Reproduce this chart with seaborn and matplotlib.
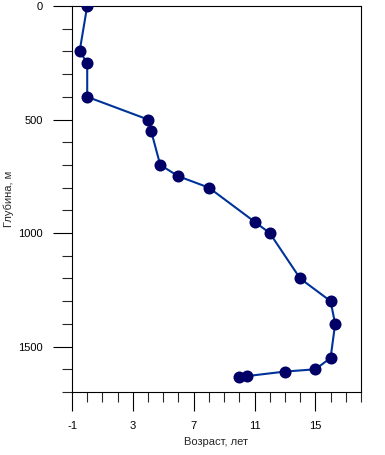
import pandas as pd
import matplotlib
matplotlib.use("Agg")
import matplotlib.pyplot as plt
import seaborn as sns
from matplotlib.ticker import MultipleLocator, FixedLocator

# Age (years) vs depth (m)
age = [0, -0.5, 0, 0, 4, 4.2, 4.8, 6, 8, 11, 12, 14, 16, 16.3, 16, 15, 13, 10.5, 10]
depth = [0, 200, 250, 400, 500, 550, 700, 750, 800, 950, 1000, 1200, 1300, 1400, 1550, 1600, 1610, 1630, 1635]

df = pd.DataFrame({"age": age, "depth": depth})

sns.set_style("white")
plt.rcParams['font.family'] = ['Liberation Sans', 'DejaVu Sans']
plt.rcParams['axes.unicode_minus'] = False

fig = plt.figure(figsize=(3.85, 4.55), dpi=100)
ax = fig.add_axes([72 / 385, 1 - 392 / 455, (361 - 72) / 385, (392 - 6) / 455])

sns.lineplot(data=df, x="age", y="depth", sort=False, estimator=None,
             color="#003399", linewidth=1.5, ax=ax)
sns.scatterplot(data=df, x="age", y="depth", color="#000066", s=75,
                edgecolor="#000066", linewidth=0, ax=ax, zorder=3)

ax.set_xlim(-1, 18)
ax.set_ylim(1700, 0)
ax.xaxis.set_major_locator(FixedLocator([-1, 3, 7, 11, 15]))
ax.xaxis.set_minor_locator(MultipleLocator(1))
ax.yaxis.set_major_locator(MultipleLocator(500))
ax.yaxis.set_minor_locator(MultipleLocator(100))

ax.tick_params(axis="both", which="major", length=14, width=0.8, direction="out",
               labelsize=8, pad=7, colors="black")
ax.tick_params(axis="both", which="minor", length=7, width=0.8, direction="out")
ax.tick_params(axis="both", which="both", bottom=True, left=True)

for s in ax.spines.values():
    s.set_color("black")
    s.set_linewidth(0.8)

ax.set_xlabel("Возраст, лет", fontsize=8, labelpad=4)
ax.set_ylabel("Глубина, м", fontsize=8, labelpad=3)

fig.savefig("out.png", dpi=100)
